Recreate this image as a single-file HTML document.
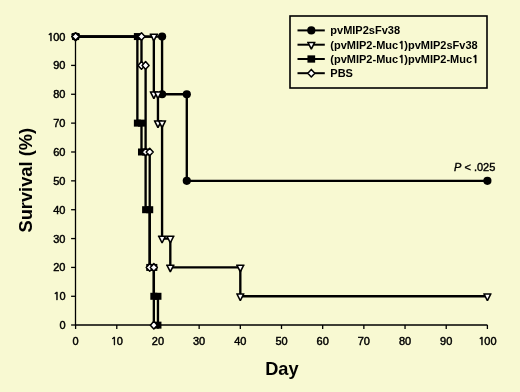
<!DOCTYPE html>
<html><head><meta charset="utf-8"><title>Survival</title><style>
html,body{margin:0;padding:0;background:#F8F9D2;}
body{width:520px;height:392px;overflow:hidden;position:relative;}
svg{position:absolute;left:0;top:0;display:block;}
text{font-family:"Liberation Sans",Arial,sans-serif;fill:#000;}
.tk{font-size:11px;stroke:#000;stroke-width:0.45px;}
.lg{font-size:11px;font-weight:bold;}
.pv{font-size:11px;stroke:#000;stroke-width:0.4px;}
.ax{font-size:18.5px;font-weight:bold;}
.one{font-family:"NanumGothic","Liberation Sans",sans-serif;stroke:#000;stroke-width:0.35px;letter-spacing:-0.55px;}
.tk .one{stroke-width:0.55px;}
</style></head><body>
<svg width="520" height="392" viewBox="0 0 520 392">
<path d="M75.5 36.55V325.0H487.4" fill="none" stroke="#000" stroke-width="1.3"/>
<path d="M71.1 325H75.5" stroke="#000" stroke-width="1.3"/>
<text x="65.5" y="329" class="tk" text-anchor="end">0</text>
<path d="M71.1 296.29H75.5" stroke="#000" stroke-width="1.3"/>
<text x="65.5" y="300.29" class="tk" text-anchor="end"><tspan class="one">1</tspan>0</text>
<path d="M71.1 267.43H75.5" stroke="#000" stroke-width="1.3"/>
<text x="65.5" y="271.43" class="tk" text-anchor="end">20</text>
<path d="M71.1 238.57H75.5" stroke="#000" stroke-width="1.3"/>
<text x="65.5" y="242.57" class="tk" text-anchor="end">30</text>
<path d="M71.1 209.71H75.5" stroke="#000" stroke-width="1.3"/>
<text x="65.5" y="213.71" class="tk" text-anchor="end">40</text>
<path d="M71.1 180.85H75.5" stroke="#000" stroke-width="1.3"/>
<text x="65.5" y="184.85" class="tk" text-anchor="end">50</text>
<path d="M71.1 151.99H75.5" stroke="#000" stroke-width="1.3"/>
<text x="65.5" y="155.99" class="tk" text-anchor="end">60</text>
<path d="M71.1 123.13H75.5" stroke="#000" stroke-width="1.3"/>
<text x="65.5" y="127.13" class="tk" text-anchor="end">70</text>
<path d="M71.1 94.27H75.5" stroke="#000" stroke-width="1.3"/>
<text x="65.5" y="98.27" class="tk" text-anchor="end">80</text>
<path d="M71.1 65.41H75.5" stroke="#000" stroke-width="1.3"/>
<text x="65.5" y="69.41" class="tk" text-anchor="end">90</text>
<path d="M71.1 36.55H75.5" stroke="#000" stroke-width="1.3"/>
<text x="65.5" y="40.55" class="tk" text-anchor="end"><tspan class="one">1</tspan>00</text>
<path d="M75.6 325.0V329" stroke="#000" stroke-width="1.3"/>
<text x="75.6" y="345" class="tk" text-anchor="middle">0</text>
<path d="M116.78 325.0V329" stroke="#000" stroke-width="1.3"/>
<text x="116.78" y="345" class="tk" text-anchor="middle"><tspan class="one">1</tspan>0</text>
<path d="M157.96 325.0V329" stroke="#000" stroke-width="1.3"/>
<text x="157.96" y="345" class="tk" text-anchor="middle">20</text>
<path d="M199.14 325.0V329" stroke="#000" stroke-width="1.3"/>
<text x="199.14" y="345" class="tk" text-anchor="middle">30</text>
<path d="M240.32 325.0V329" stroke="#000" stroke-width="1.3"/>
<text x="240.32" y="345" class="tk" text-anchor="middle">40</text>
<path d="M281.5 325.0V329" stroke="#000" stroke-width="1.3"/>
<text x="281.5" y="345" class="tk" text-anchor="middle">50</text>
<path d="M322.68 325.0V329" stroke="#000" stroke-width="1.3"/>
<text x="322.68" y="345" class="tk" text-anchor="middle">60</text>
<path d="M363.86 325.0V329" stroke="#000" stroke-width="1.3"/>
<text x="363.86" y="345" class="tk" text-anchor="middle">70</text>
<path d="M405.04 325.0V329" stroke="#000" stroke-width="1.3"/>
<text x="405.04" y="345" class="tk" text-anchor="middle">80</text>
<path d="M446.22 325.0V329" stroke="#000" stroke-width="1.3"/>
<text x="446.22" y="345" class="tk" text-anchor="middle">90</text>
<path d="M487.4 325.0V329" stroke="#000" stroke-width="1.3"/>
<text x="487.4" y="345" class="tk" text-anchor="middle"><tspan class="one">1</tspan>00</text>
<path d="M75.6 36.55 L162.08 36.55 L162.08 94.27 L186.79 94.27 L186.79 180.85 L487.4 180.85" fill="none" stroke="#000" stroke-width="2.35" stroke-linejoin="miter" stroke-linecap="butt"/>
<circle cx="75.6" cy="36.55" r="4.1" fill="#000"/>
<circle cx="162.08" cy="36.55" r="4.1" fill="#000"/>
<circle cx="162.08" cy="94.27" r="4.1" fill="#000"/>
<circle cx="186.79" cy="94.27" r="4.1" fill="#000"/>
<circle cx="186.79" cy="180.85" r="4.1" fill="#000"/>
<circle cx="487.4" cy="180.85" r="4.1" fill="#000"/>
<path d="M75.6 36.55 L153.84 36.55 L153.84 94.27 L157.96 94.27 L157.96 123.13 L162.08 123.13 L162.08 238.57 L170.31 238.57 L170.31 267.43 L240.32 267.43 L240.32 296.29 L487.4 296.29" fill="none" stroke="#000" stroke-width="2.35" stroke-linejoin="miter" stroke-linecap="butt"/>
<path d="M71.4 33.55L79.8 33.55L79.8 34.35L76.3 41.35L74.9 41.35L71.4 34.35Z" fill="#000"/><path d="M73.5 35.05L77.7 35.05L75.6 39.15Z" fill="#fff"/>
<path d="M149.64 33.55L158.04 33.55L158.04 34.35L154.54 41.35L153.14 41.35L149.64 34.35Z" fill="#000"/><path d="M151.74 35.05L155.94 35.05L153.84 39.15Z" fill="#fff"/>
<path d="M149.64 91.27L158.04 91.27L158.04 92.07L154.54 99.07L153.14 99.07L149.64 92.07Z" fill="#000"/><path d="M151.74 92.77L155.94 92.77L153.84 96.87Z" fill="#fff"/>
<path d="M153.76 91.27L162.16 91.27L162.16 92.07L158.66 99.07L157.26 99.07L153.76 92.07Z" fill="#000"/><path d="M155.86 92.77L160.06 92.77L157.96 96.87Z" fill="#fff"/>
<path d="M153.76 120.13L162.16 120.13L162.16 120.93L158.66 127.93L157.26 127.93L153.76 120.93Z" fill="#000"/><path d="M155.86 121.63L160.06 121.63L157.96 125.73Z" fill="#fff"/>
<path d="M157.88 120.13L166.28 120.13L166.28 120.93L162.78 127.93L161.38 127.93L157.88 120.93Z" fill="#000"/><path d="M159.98 121.63L164.18 121.63L162.08 125.73Z" fill="#fff"/>
<path d="M157.88 235.57L166.28 235.57L166.28 236.37L162.78 243.37L161.38 243.37L157.88 236.37Z" fill="#000"/><path d="M159.98 237.07L164.18 237.07L162.08 241.17Z" fill="#fff"/>
<path d="M166.11 235.57L174.51 235.57L174.51 236.37L171.01 243.37L169.61 243.37L166.11 236.37Z" fill="#000"/><path d="M168.21 237.07L172.41 237.07L170.31 241.17Z" fill="#fff"/>
<path d="M166.11 264.43L174.51 264.43L174.51 265.23L171.01 272.23L169.61 272.23L166.11 265.23Z" fill="#000"/><path d="M168.21 265.93L172.41 265.93L170.31 270.03Z" fill="#fff"/>
<path d="M236.12 264.43L244.52 264.43L244.52 265.23L241.02 272.23L239.62 272.23L236.12 265.23Z" fill="#000"/><path d="M238.22 265.93L242.42 265.93L240.32 270.03Z" fill="#fff"/>
<path d="M236.12 293.29L244.52 293.29L244.52 294.09L241.02 301.09L239.62 301.09L236.12 294.09Z" fill="#000"/><path d="M238.22 294.79L242.42 294.79L240.32 298.89Z" fill="#fff"/>
<path d="M483.2 293.29L491.6 293.29L491.6 294.09L488.1 301.09L486.7 301.09L483.2 294.09Z" fill="#000"/><path d="M485.3 294.79L489.5 294.79L487.4 298.89Z" fill="#fff"/>
<path d="M75.6 36.55 L137.37 36.55 L137.37 123.13 L141.49 123.13 L141.49 151.99 L145.61 151.99 L145.61 209.71 L149.72 209.71 L149.72 267.43 L153.84 267.43 L153.84 296.29 L157.96 296.29 L157.96 325.15" fill="none" stroke="#000" stroke-width="2.35" stroke-linejoin="miter" stroke-linecap="butt"/>
<rect x="72.1" y="33.05" width="7" height="7" fill="#000"/>
<rect x="133.87" y="33.05" width="7" height="7" fill="#000"/>
<rect x="133.87" y="119.63" width="7" height="7" fill="#000"/>
<rect x="137.99" y="119.63" width="7" height="7" fill="#000"/>
<rect x="137.99" y="148.49" width="7" height="7" fill="#000"/>
<rect x="142.11" y="148.49" width="7" height="7" fill="#000"/>
<rect x="142.11" y="206.21" width="7" height="7" fill="#000"/>
<rect x="146.22" y="206.21" width="7" height="7" fill="#000"/>
<rect x="146.22" y="263.93" width="7" height="7" fill="#000"/>
<rect x="150.34" y="263.93" width="7" height="7" fill="#000"/>
<rect x="150.34" y="292.79" width="7" height="7" fill="#000"/>
<rect x="154.46" y="292.79" width="7" height="7" fill="#000"/>
<rect x="154.46" y="321.65" width="7" height="7" fill="#000"/>
<path d="M75.6 36.55 L141.49 36.55 L141.49 65.41 L145.61 65.41 L145.61 151.99 L149.72 151.99 L149.72 267.43 L153.84 267.43 L153.84 325.15" fill="none" stroke="#000" stroke-width="2.35" stroke-linejoin="miter" stroke-linecap="butt"/>
<path d="M75.6 32.75L79.1 36.55L75.6 40.35L72.1 36.55Z" fill="#fff" stroke="#000" stroke-width="1.5" stroke-linejoin="round"/>
<path d="M141.49 32.75L144.99 36.55L141.49 40.35L137.99 36.55Z" fill="#fff" stroke="#000" stroke-width="1.5" stroke-linejoin="round"/>
<path d="M141.49 61.61L144.99 65.41L141.49 69.21L137.99 65.41Z" fill="#fff" stroke="#000" stroke-width="1.5" stroke-linejoin="round"/>
<path d="M145.61 61.61L149.11 65.41L145.61 69.21L142.11 65.41Z" fill="#fff" stroke="#000" stroke-width="1.5" stroke-linejoin="round"/>
<path d="M145.61 148.19L149.11 151.99L145.61 155.79L142.11 151.99Z" fill="#fff" stroke="#000" stroke-width="1.5" stroke-linejoin="round"/>
<path d="M149.72 148.19L153.22 151.99L149.72 155.79L146.22 151.99Z" fill="#fff" stroke="#000" stroke-width="1.5" stroke-linejoin="round"/>
<path d="M149.72 263.63L153.22 267.43L149.72 271.23L146.22 267.43Z" fill="#fff" stroke="#000" stroke-width="1.5" stroke-linejoin="round"/>
<path d="M153.84 263.63L157.34 267.43L153.84 271.23L150.34 267.43Z" fill="#fff" stroke="#000" stroke-width="1.5" stroke-linejoin="round"/>
<path d="M153.84 321.35L157.34 325.15L153.84 328.95L150.34 325.15Z" fill="#fff" stroke="#000" stroke-width="1.5" stroke-linejoin="round"/>
<rect x="290" y="16" width="197" height="72" fill="none" stroke="#000" stroke-width="1.6"/>
<path d="M297.5 30.4H324.8" stroke="#000" stroke-width="2"/>
<circle cx="311.3" cy="30.4" r="4.1" fill="#000"/>
<text x="330.3" y="34.4" class="lg">pvMIP2sFv38</text>
<path d="M297.5 44.7H324.8" stroke="#000" stroke-width="2"/>
<path d="M307.1 41.7L315.5 41.7L315.5 42.5L312 49.5L310.6 49.5L307.1 42.5Z" fill="#000"/><path d="M309.2 43.2L313.4 43.2L311.3 47.3Z" fill="#fff"/>
<text x="330.3" y="48.7" class="lg">(pvMIP2-Muc<tspan class="one">1</tspan>)pvMIP2sFv38</text>
<path d="M297.5 59H324.8" stroke="#000" stroke-width="2"/>
<rect x="307.45" y="55.35" width="7.7" height="7.3" fill="#000"/>
<text x="330.3" y="63" class="lg">(pvMIP2-Muc<tspan class="one">1</tspan>)pvMIP2-Muc<tspan class="one">1</tspan></text>
<path d="M297.5 73.2H324.8" stroke="#000" stroke-width="2"/>
<path d="M311.3 69.4L314.8 73.2L311.3 77L307.8 73.2Z" fill="#fff" stroke="#000" stroke-width="1.5" stroke-linejoin="round"/>
<text x="330.3" y="77.2" class="lg">PBS</text>
<text x="454" y="170.9" class="pv"><tspan font-style="italic">P</tspan> &lt; .025</text>
<text x="281.9" y="374.7" class="ax" text-anchor="middle" style="font-size:18.2px">Day</text>
<text transform="translate(32 180.2) rotate(-90)" x="0" y="0" class="ax" text-anchor="middle" style="font-size:18.3px">Survival (%)</text>
</svg>
</body></html>
